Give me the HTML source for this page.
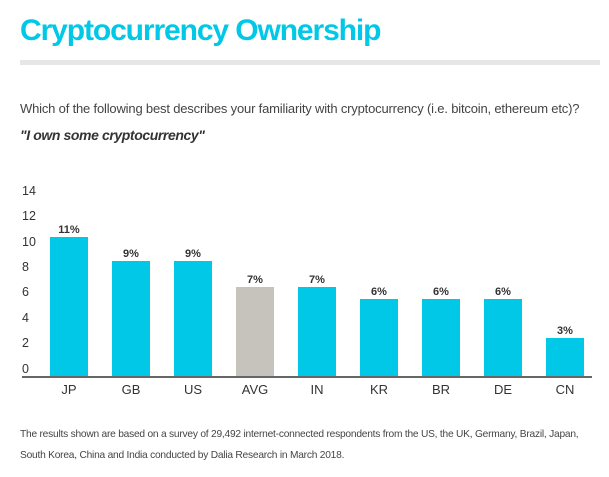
<!DOCTYPE html>
<html><head><style>
body{margin:0;width:609px;height:477px;background:#fff;font-family:"Liberation Sans",sans-serif;position:relative;overflow:hidden}
.a{position:absolute;white-space:nowrap}
</style></head><body>
<div class="a" style="left:20px;top:14px;font-size:30px;font-weight:bold;color:#00c8e6;letter-spacing:-1.1px">Cryptocurrency Ownership</div>
<div class="a" style="left:20px;top:60px;width:580px;height:5px;background:#e6e6e6"></div>
<div class="a" style="left:20px;top:101px;font-size:13px;color:#444;letter-spacing:-0.18px">Which of the following best describes your familiarity with cryptocurrency (i.e. bitcoin, ethereum etc)?</div>
<div class="a" style="left:20px;top:127px;font-size:14px;font-weight:bold;font-style:italic;color:#333;letter-spacing:-0.4px">"I own some cryptocurrency"</div>
<svg class="a" style="left:0;top:0" width="609" height="477">
<g font-size="12.5" fill="#333" font-family="Liberation Sans">
<text x="22" y="195">14</text><text x="22" y="220">12</text><text x="22" y="246">10</text>
<text x="22" y="271">8</text><text x="22" y="296">6</text><text x="22" y="322">4</text>
<text x="22" y="347">2</text><text x="22" y="373">0</text>
</g>
<g fill="#00c8e6">
<rect x="50" y="237" width="38" height="140"/><rect x="112" y="261" width="38" height="116"/>
<rect x="174" y="261" width="38" height="116"/><rect x="236" y="287" width="38" height="90" fill="#c6c2bc"/>
<rect x="298" y="287" width="38" height="90"/><rect x="360" y="299" width="38" height="78"/>
<rect x="422" y="299" width="38" height="78"/><rect x="484" y="299" width="38" height="78"/>
<rect x="546" y="338" width="38" height="39"/>
</g>
<rect x="22" y="376" width="570" height="2" fill="#666"/>
<g font-size="11" font-weight="bold" fill="#333" text-anchor="middle">
<text x="69" y="233">11%</text><text x="131" y="257">9%</text><text x="193" y="257">9%</text>
<text x="255" y="283">7%</text><text x="317" y="283">7%</text><text x="379" y="295">6%</text>
<text x="441" y="295">6%</text><text x="503" y="295">6%</text><text x="565" y="334">3%</text>
</g>
<g font-size="13" fill="#333" text-anchor="middle">
<text x="69" y="394">JP</text><text x="131" y="394">GB</text><text x="193" y="394">US</text>
<text x="255" y="394">AVG</text><text x="317" y="394">IN</text><text x="379" y="394">KR</text>
<text x="441" y="394">BR</text><text x="503" y="394">DE</text><text x="565" y="394">CN</text>
</g>
</svg>
<div class="a" style="left:20px;top:424px;font-size:10.2px;color:#444;line-height:21px;letter-spacing:-0.22px">The results shown are based on a survey of 29,492 internet-connected respondents from the US, the UK, Germany, Brazil, Japan,<br>South Korea, China and India conducted by Dalia Research in March 2018.</div>
</body></html>
